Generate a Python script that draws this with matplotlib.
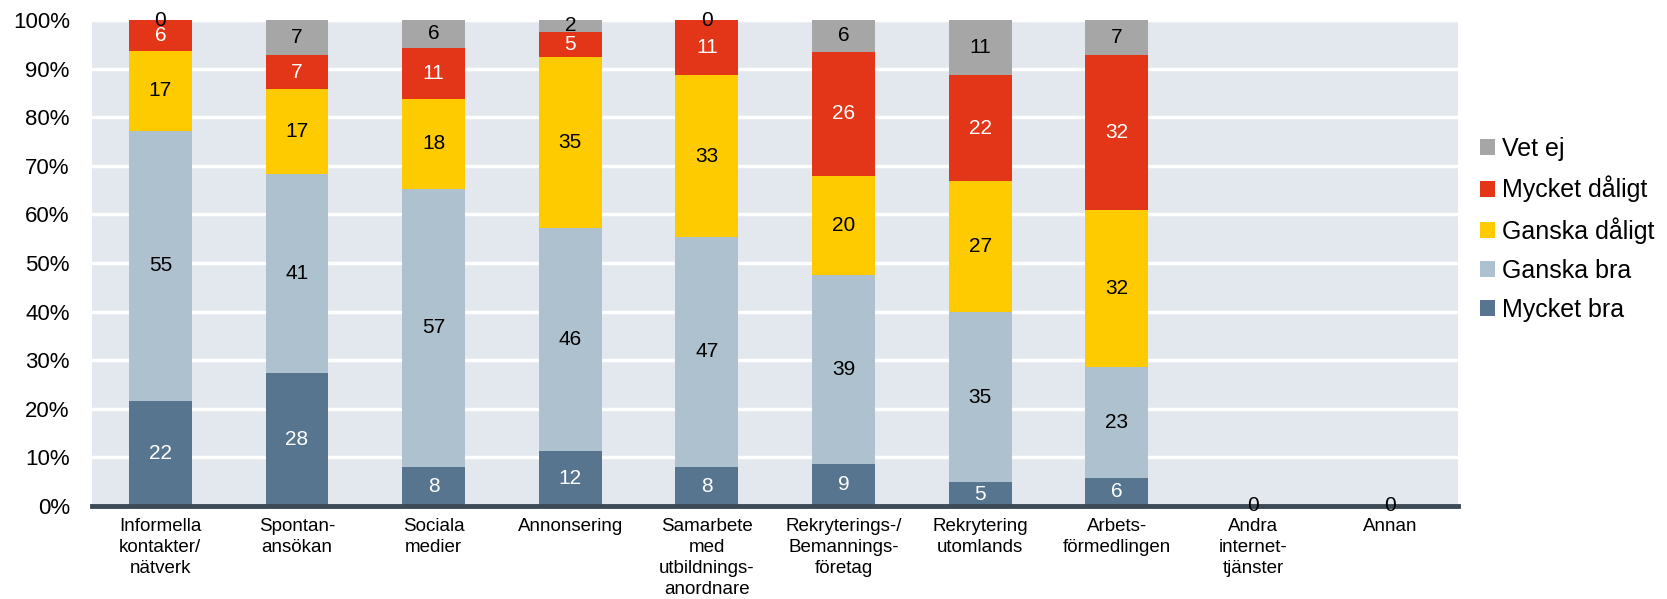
import numpy as np
import matplotlib
matplotlib.use("Agg")
import matplotlib.pyplot as plt

plt.rcParams['font.family'] = ['Liberation Sans', 'DejaVu Sans']

# kategorier
cats = ["Informella\nkontakter/\nnätverk", "Spontan-\nansökan", "Sociala\nmedier",
        "Annonsering", "Samarbete\nmed\nutbildnings-\nanordnare",
        "Rekryterings-/\nBemannings-\nföretag", "Rekrytering\nutomlands",
        "Arbets-\nförmedlingen", "Andra\ninternet-\ntjänster", "Annan"]

# andelar (%), avlästa ur stapelhöjderna
mycket_bra = [21.6, 27.4, 8.1, 11.3, 8.1, 8.7, 4.9, 5.8, 0, 0]
ganska_bra = [55.6, 41.0, 57.2, 46.0, 47.3, 38.9, 35.0, 22.9, 0, 0]
ganska_daligt = [16.5, 17.4, 18.5, 35.1, 33.2, 20.4, 26.9, 32.3, 0, 0]
mycket_daligt = [6.3, 7.0, 10.5, 5.2, 11.4, 25.5, 21.8, 31.8, 0, 0]
vet_ej = [0, 7.2, 5.7, 2.4, 0, 6.5, 11.4, 7.2, 0, 0]

# etiketter som visas i staplarna
lbl_mycket_bra = [22, 28, 8, 12, 8, 9, 5, 6, 0, 0]
lbl_ganska_bra = [55, 41, 57, 46, 47, 39, 35, 23, 0, 0]
lbl_ganska_daligt = [17, 17, 18, 35, 33, 20, 27, 32, 0, 0]
lbl_mycket_daligt = [6, 7, 11, 5, 11, 26, 22, 32, 0, 0]
lbl_vet_ej = [0, 7, 6, 2, 0, 6, 11, 7, 0, 0]

serier = [
    ("Mycket bra", mycket_bra, lbl_mycket_bra, "#587590", "white"),
    ("Ganska bra", ganska_bra, lbl_ganska_bra, "#AEC1CE", "black"),
    ("Ganska dåligt", ganska_daligt, lbl_ganska_daligt, "#FECB00", "black"),
    ("Mycket dåligt", mycket_daligt, lbl_mycket_daligt, "#E33618", "white"),
    ("Vet ej", vet_ej, lbl_vet_ej, "#A6A6A6", "black"),
]

fig = plt.figure(figsize=(16.67, 5.99), dpi=100)
ax = fig.add_axes([0.0552, 0.1553, 0.8197, 0.8113])
ax.set_facecolor("#E3E8EF")

x = np.arange(len(cats))
bottom = np.zeros(len(cats))
drawn = set()
handles = []
for name, vals, lbls, col, tcol in serier:
    vals = np.array(vals, dtype=float)
    b = ax.bar(x, vals, 0.46, bottom=bottom, color=col, label=name, zorder=3)
    handles.append(b)
    for i in range(len(cats)):
        ymid = bottom[i] + vals[i] / 2
        key = (i, round(ymid, 2))
        if key in drawn:
            continue
        drawn.add(key)
        # tomma segment får svart etikett
        c = tcol if vals[i] > 0 else "black"
        ax.text(x[i], ymid, str(lbls[i]), ha="center", va="center",
                fontsize=15, color=c, zorder=5)
    bottom = bottom + vals

ax.set_xlim(-0.5, len(cats) - 0.5)
ax.set_ylim(0, 100)
ax.set_yticks(np.arange(0, 101, 10))
ax.set_yticklabels([f"{v}%" for v in range(0, 101, 10)], fontsize=16)
ax.set_xticks(x)
ax.set_xticklabels(cats, fontsize=13.5, linespacing=1.3)
ax.tick_params(axis="both", length=0)
ax.tick_params(axis="y", pad=16)
ax.tick_params(axis="x", pad=9)
ax.grid(axis="y", color="white", lw=2.5, zorder=1)
for s in ax.spines.values():
    s.set_visible(False)
ax.axhline(0, color="#3C4A56", lw=3.5, zorder=4, clip_on=False)

fig.legend(handles[::-1], [h.get_label() for h in handles[::-1]],
           loc="center left", bbox_to_anchor=(0.888, 0.617), frameon=False,
           fontsize=18, handlelength=0.6, handleheight=0.6,
           handletextpad=0.25, labelspacing=0.6, borderpad=0, borderaxespad=0)

fig.savefig("out.png", dpi=100)
